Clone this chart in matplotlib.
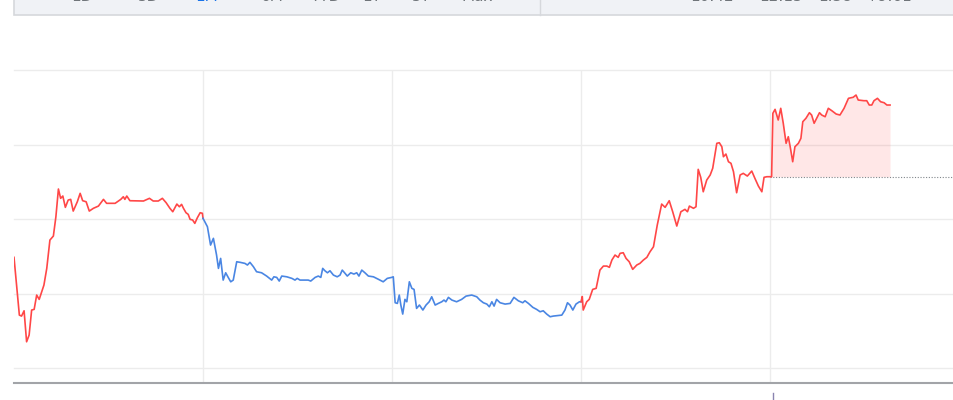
import matplotlib.pyplot as plt
import matplotlib.transforms as mtransforms
from matplotlib.patches import Rectangle

# minutes since open, split by line colour (boundary points shared)
morning_t = [0.0, 1.7, 2.4, 3.2, 4.0, 4.8, 5.6, 6.4, 7.2, 8.0,
             9.5, 10.4, 11.4, 12.5, 13.3, 14.1, 14.8, 15.5, 16.3, 17.2,
             18.0, 18.8, 20.1, 21.0, 21.8, 22.9, 23.9, 25.2, 26.8, 28.4,
             29.4, 32.1, 33.9, 34.7, 35.2, 35.8, 36.8, 41.1, 43.0, 44.2,
             45.8, 47.1, 48.3, 49.5, 50.4, 51.7, 52.5, 53.2, 53.8, 54.6,
             55.3, 55.9, 56.7, 57.4, 58.2, 59.1, 59.8, 60.0]
morning_p = [114.86, 107.11, 106.98, 107.69, 103.53, 104.43, 107.79, 107.88, 109.8, 109.22,
             111.14, 113.38, 117.18, 117.72, 120.31, 124.03, 122.78, 123.09, 121.57, 122.55,
             122.64, 121.07, 122.32, 123.45, 122.46, 122.32, 121.07, 121.44, 121.74, 122.64,
             122.11, 122.11, 122.64, 122.99, 122.64, 123.09, 122.46, 122.42, 122.78, 122.42,
             122.42, 122.78, 122.19, 121.44, 120.98, 122.01, 121.65, 121.97, 121.44, 120.85,
             120.63, 119.96, 119.87, 119.42, 120.17, 120.85, 120.77, 120.1]

midday_t = [60.0, 61.4, 62.4, 63.3, 64.3, 64.9, 65.6, 66.4, 67.2, 68.0, 68.8,
            69.6, 70.7, 71.8, 73.3, 74.1, 74.9, 76.0, 77.0, 78.6, 80.2,
            81.8, 82.5, 83.4, 84.2, 85.0, 86.6, 88.2, 89.2, 89.9, 90.8,
            93.4, 94.2, 95.6, 96.6, 97.4, 98.0, 98.7, 99.5, 100.3, 101.4,
            102.6, 103.5, 104.2, 105.1, 105.8, 106.9, 107.9, 108.8, 109.5, 110.4,
            111.4, 112.5, 114.1, 115.7, 117.2, 118.5, 119.9, 120.4, 121.0, 121.7,
            122.3, 122.8, 123.4, 124.1, 124.7, 125.5, 126.3, 127.0, 127.8, 128.7,
            129.8, 130.8, 131.8, 132.6, 133.7, 134.7, 135.8, 136.5, 137.1, 137.9,
            139.0, 140.5, 142.1, 143.5, 145.3, 146.9, 147.9, 149.0, 150.1, 150.9,
            151.7, 152.4, 153.2, 154.3, 155.9, 157.5, 158.7, 160.1, 161.5, 162.2,
            163.3, 164.7, 165.9, 167.0, 168.0, 169.1, 170.2, 171.2, 173.9, 174.9,
            175.7, 176.5, 177.4, 178.4, 179.5, 180.0]
midday_p = [120.1, 118.97, 116.51, 117.41, 115.17, 113.38, 114.72, 111.81, 112.79, 112.17, 111.58,
            111.81, 114.27, 114.19, 114.05, 113.83, 114.19, 113.6, 112.93, 112.79, 112.35,
            111.81, 112.25, 112.17, 111.68, 112.35, 112.25, 112.04, 111.81, 112.04, 111.81,
            111.81, 111.68, 112.17, 112.35, 112.17, 113.38, 113.06, 112.79, 113.06, 112.48,
            112.25, 112.48, 113.15, 112.71, 112.35, 112.79, 112.62, 112.79, 112.35, 113.15,
            112.79, 112.35, 112.25, 111.91, 111.58, 112.04, 112.17, 112.25, 108.77, 108.68,
            109.8, 108.46, 107.25, 109.22, 108.9, 111.58, 110.7, 110.56, 108.01, 108.46,
            107.79, 108.46, 108.9, 109.57, 108.46, 108.68, 108.9, 109.13, 108.9, 109.49,
            109.13, 108.9, 109.22, 109.66, 109.8, 109.57, 109.13, 108.77, 108.59, 108.23,
            108.9, 108.32, 109.22, 108.77, 108.59, 108.68, 109.49, 109.03, 108.77, 109.03,
            108.68, 108.15, 107.88, 107.56, 107.69, 107.25, 106.89, 106.98, 107.11, 107.79,
            108.77, 108.46, 107.79, 108.59, 108.9, 108.9]

late_t = [180.0, 180.4, 180.7, 181.8, 182.6, 183.7, 184.8, 186.0, 187.1, 188.2,
          189.0, 189.8, 190.8, 191.8, 192.4, 193.4, 194.3, 195.3, 196.4, 197.7,
          198.7, 199.8, 200.9, 201.9, 203.0, 204.2, 205.6, 206.7, 208.0, 209.1,
          210.4, 211.7, 213.0, 213.8, 214.4, 215.7, 216.5, 217.2, 218.0, 218.8,
          219.9, 221.0, 221.8, 223.1, 223.9, 224.7, 225.2, 226.0, 226.8, 227.6,
          228.4, 229.4, 230.5, 231.5, 232.8, 234.2, 235.2, 236.3, 237.4, 238.1,
          239.0, 240.0, 240.5, 240.9, 241.6, 242.6, 243.4, 244.2, 245.1, 245.8,
          246.4, 247.2, 247.9, 249.0, 249.8, 250.4, 251.4, 252.5, 253.2, 254.0,
          254.8, 255.7, 256.4, 257.5, 258.5, 259.6, 261.0, 262.2, 263.5, 264.9,
          266.4, 267.3, 268.0, 269.8, 270.7, 271.5, 272.3, 273.0, 274.1, 275.1,
          276.2, 277.1, 278.1]
late_p = [108.9, 109.6, 107.79, 108.9, 109.22, 110.56, 110.7, 113.15, 113.69, 113.69,
          113.52, 114.5, 115.17, 114.86, 115.4, 115.48, 114.72, 114.27, 113.25, 113.83,
          114.05, 114.5, 114.86, 115.61, 116.28, 119.19, 122.01, 121.57, 122.46, 120.98,
          119.06, 120.98, 121.3, 120.98, 121.74, 121.44, 121.65, 126.67, 125.6, 123.66,
          125.23, 125.91, 126.81, 130.16, 130.24, 129.7, 128.36, 128.72, 127.69, 127.48,
          126.35, 123.53, 125.91, 126.13, 125.77, 126.44, 125.46, 124.43, 123.66, 125.6,
          125.68, 125.68, 125.68, 134.19, 134.72, 133.29, 134.86, 132.85, 130.16, 131.05,
          129.7, 127.69, 129.7, 130.16, 130.83, 133.06, 133.52, 134.27, 133.96, 132.85,
          133.52, 134.27, 133.96, 133.73, 134.86, 134.54, 134.09, 133.96, 134.86, 136.2,
          136.34, 136.64, 135.97, 135.88, 135.88, 135.3, 135.3, 135.88, 136.2, 135.74,
          135.61, 135.3, 135.3]

grid_prices = [100, 110, 120, 130, 140]
grid_times = [60, 120, 180, 240]
prev_close = 125.68
select_start = 240.0
marker_time = 241.0

range_tabs = ["1D", "5D", "1M", "6M", "YTD", "1Y", "5Y", "Max"]
range_x = [82, 149, 207, 272, 325, 372, 421, 477]
right_tabs = ["10:42", "12:15", "1.38", "+9.61"]
right_x = [712, 781, 835, 889]

RED = "#ff4747"
BLUE = "#4a86e3"
GRID = "#ececec"

W, H = 954, 400
fig = plt.figure(figsize=(W / 100, H / 100), dpi=100)

# top tab strip (only its lower edge is in view)
fig.patches.append(Rectangle((14 / W, 1 - 15 / H), 1.2, 20 / H, transform=fig.transFigure,
                             facecolor="#f0f2f6", edgecolor="#d6d8dc", linewidth=1.2))
fig.add_artist(plt.Line2D([540 / W, 540 / W], [1 - 15 / H, 1], transform=fig.transFigure,
                          color="#d6d8dc", linewidth=1))
for lab, x in zip(range_tabs, range_x):
    fig.text(x / W, 1 - 1.2 / H, lab, ha="center", va="baseline", fontsize=11,
             color="#1a73e8" if lab == "1M" else "#70757a")
for lab, x in zip(right_tabs, right_x):
    fig.text(x / W, 1 - 1.2 / H, lab, ha="center", va="baseline", fontsize=11, color="#70757a")

ax = fig.add_axes([14 / W, 1 - 383 / H, 1 - 14 / W, 313 / H])
ax.set_xlim(0, 298.4)
ax.set_ylim(98, 140)
ax.axis("off")

for p in grid_prices:
    ax.axhline(p, color=GRID, linewidth=1, zorder=1, clip_on=False)
ax.vlines(grid_times, 98, 140, color=GRID, linewidth=1, zorder=1)
ax.axhline(98, color="#a2a4a8", linewidth=1.5, zorder=2, clip_on=False)

ax.plot(morning_t, morning_p, color=RED, linewidth=1.2, zorder=4)
ax.plot(midday_t, midday_p, color=BLUE, linewidth=1.2, zorder=4)
ax.plot(late_t, late_p, color=RED, linewidth=1.2, zorder=4)

sel_t = [t for t in late_t if t >= select_start]
sel_p = late_p[len(late_t) - len(sel_t):]
ax.fill_between(sel_t, sel_p, prev_close, color=RED, alpha=0.13, linewidth=0, zorder=3)
ax.hlines(prev_close, select_start, 298.4, color="#80868b", linewidth=0.8,
          linestyle=(0, (1, 1.5)), zorder=3)

trans = mtransforms.blended_transform_factory(ax.transData, ax.transAxes)
ax.plot([marker_time, marker_time], [-0.032, -0.06], transform=trans,
        color="#8a84b0", linewidth=1, clip_on=False)

fig.savefig("out.png", dpi=100)
